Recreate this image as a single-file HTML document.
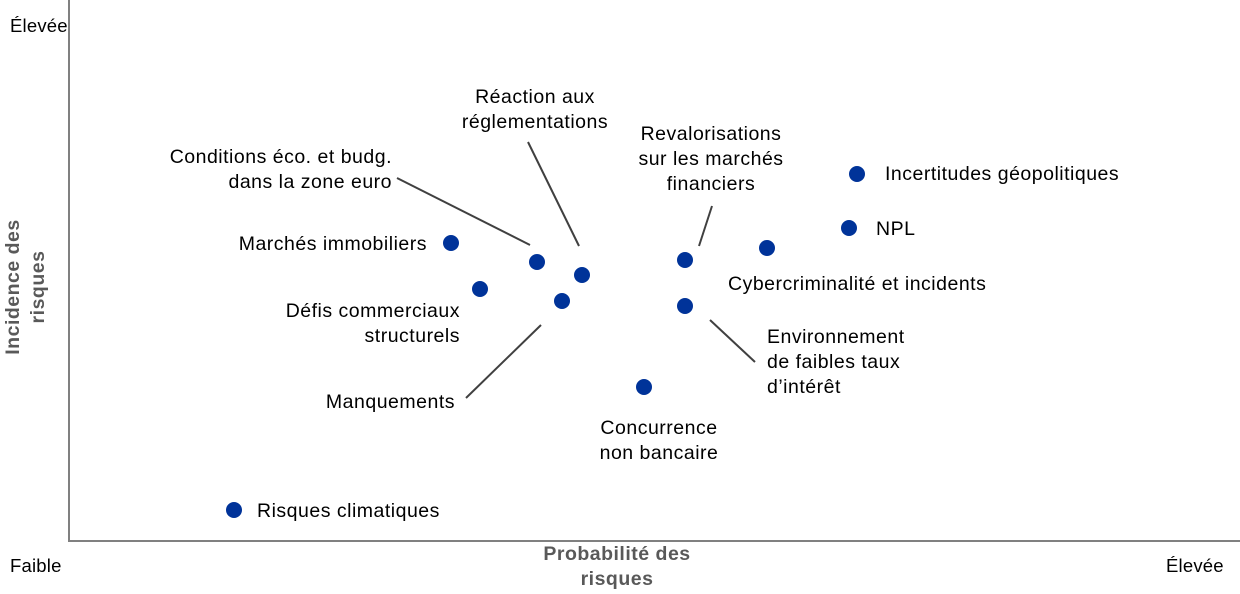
<!DOCTYPE html>
<html><head><meta charset="utf-8"><style>
body{margin:0;background:#fff;}
svg text{font-family:"Liberation Sans",Arial,sans-serif;font-size:19.5px;letter-spacing:0.5px;fill:#000;}
svg text.c{font-size:18.5px;letter-spacing:0.2px;}
</style></head><body>
<svg width="1240" height="589" viewBox="0 0 1240 589" xmlns="http://www.w3.org/2000/svg">
<line x1="69" y1="0" x2="69" y2="541" stroke="#808080" stroke-width="2"/>
<line x1="68" y1="541" x2="1240" y2="541" stroke="#808080" stroke-width="2"/>
<text class="c" x="10" y="32">Élevée</text>
<text class="c" x="10" y="572">Faible</text>
<text class="c" x="1166" y="572">Élevée</text>
<text x="617" y="560" text-anchor="middle" font-weight="bold" style="fill:#595959">Probabilité des</text>
<text x="617" y="585" text-anchor="middle" font-weight="bold" style="fill:#595959">risques</text>
<g transform="translate(19,287) rotate(-90)">
<text x="0" y="0" text-anchor="middle" font-weight="bold" style="fill:#595959">Incidence des</text>
<text x="0" y="25" text-anchor="middle" font-weight="bold" style="fill:#595959">risques</text>
</g>
<g stroke="#404040" stroke-width="2">
<line x1="397" y1="178" x2="530" y2="245"/>
<line x1="528" y1="142" x2="579" y2="246"/>
<line x1="712" y1="206" x2="699" y2="246"/>
<line x1="710" y1="320" x2="755" y2="362"/>
<line x1="466" y1="398" x2="541" y2="325"/>
</g>
<g fill="#003399">
<circle cx="857" cy="174" r="8"/><circle cx="849" cy="228" r="8"/><circle cx="767" cy="248" r="8"/>
<circle cx="685" cy="260" r="8"/><circle cx="685" cy="306" r="8"/><circle cx="644" cy="387" r="8"/>
<circle cx="451" cy="243" r="8"/><circle cx="537" cy="262" r="8"/><circle cx="582" cy="275" r="8"/>
<circle cx="480" cy="289" r="8"/><circle cx="562" cy="301" r="8"/><circle cx="234" cy="510" r="8"/>
</g>
<text x="885" y="180">Incertitudes géopolitiques</text>
<text x="876" y="235">NPL</text>
<text x="728" y="290">Cybercriminalité et incidents</text>
<text x="711" y="140" text-anchor="middle">Revalorisations</text>
<text x="711" y="165" text-anchor="middle">sur les marchés</text>
<text x="711" y="190" text-anchor="middle">financiers</text>
<text x="535" y="103" text-anchor="middle">Réaction aux</text>
<text x="535" y="128" text-anchor="middle">réglementations</text>
<text x="392" y="163" text-anchor="end">Conditions éco. et budg.</text>
<text x="392" y="188" text-anchor="end">dans la zone euro</text>
<text x="427" y="250" text-anchor="end">Marchés immobiliers</text>
<text x="460" y="317" text-anchor="end">Défis commerciaux</text>
<text x="460" y="342" text-anchor="end">structurels</text>
<text x="455" y="408" text-anchor="end">Manquements</text>
<text x="767" y="343">Environnement</text>
<text x="767" y="368">de faibles taux</text>
<text x="767" y="393">d’intérêt</text>
<text x="659" y="434" text-anchor="middle">Concurrence</text>
<text x="659" y="459" text-anchor="middle">non bancaire</text>
<text x="257" y="517">Risques climatiques</text>
</svg>
</body></html>
